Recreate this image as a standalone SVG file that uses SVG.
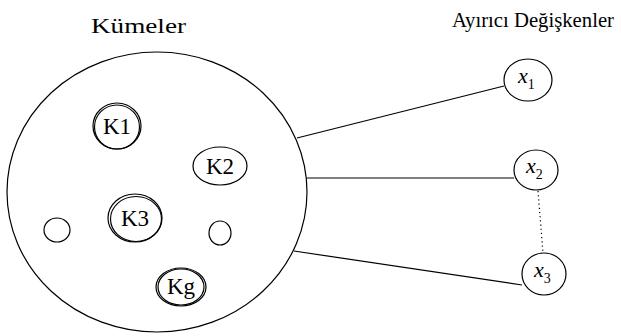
<svg xmlns="http://www.w3.org/2000/svg" width="621" height="336" viewBox="0 0 621 336">
<style>
.o{fill:none;stroke:#000;stroke-width:1.2}
.t{fill:#000;font-family:"Liberation Serif","Times New Roman",Times,serif}
.h{font-size:21px}
.k{font-size:23px;text-anchor:middle}
.v{font-size:22px;font-style:italic}
.s{font-size:14px;font-style:normal}
</style>
<rect width="621" height="336" fill="#fff"/>
<text class="t h" x="91" y="33" textLength="95" lengthAdjust="spacingAndGlyphs">Kümeler</text>
<text class="t h" x="452" y="27" font-size="19" textLength="162" lengthAdjust="spacingAndGlyphs">Ayırıcı Değişkenler</text>
<g id="connectors" stroke="#000" stroke-width="1.2" fill="none">
<line x1="297" y1="138" x2="504" y2="86"/>
<line x1="307" y1="178" x2="514" y2="178"/>
<line x1="294" y1="251" x2="522" y2="285"/>
<line x1="538" y1="191" x2="543" y2="253" stroke-dasharray="1.2 3"/>
</g>
<g id="kumeler">
<ellipse class="o" cx="157" cy="192" rx="150" ry="140"/>
</g>
<g id="K1"><ellipse class="o" cx="117" cy="126" rx="24" ry="23"/><ellipse class="o" cx="117" cy="127" rx="22.5" ry="22" stroke-width="0.8"/><text class="t k" x="117" y="134">K1</text></g>
<g id="K2"><ellipse class="o" cx="220" cy="166" rx="27" ry="19"/><text class="t k" x="220" y="174">K2</text></g>
<g id="K3"><ellipse class="o" cx="135" cy="218" rx="27" ry="24"/><ellipse class="o" cx="136" cy="219" rx="25.5" ry="22.5" stroke-width="0.8"/><text class="t k" x="135" y="226">K3</text></g>
<g id="Kg"><ellipse class="o" cx="181" cy="287" rx="25" ry="19"/><ellipse class="o" cx="181" cy="287" rx="23" ry="18" stroke-width="0.8"/><text class="t k" x="181" y="294">Kg</text></g>
<g id="c1"><ellipse class="o" cx="57" cy="230" rx="13" ry="12"/></g>
<g id="c2"><ellipse class="o" cx="220" cy="233" rx="11" ry="12"/></g>
<g id="x1"><ellipse class="o" cx="528" cy="80" rx="24" ry="21"/><text class="t v" x="518" y="83">x<tspan class="s" dy="6">1</tspan></text></g>
<g id="x2"><ellipse class="o" cx="536" cy="170" rx="22" ry="20"/><text class="t v" x="526" y="173">x<tspan class="s" dy="6">2</tspan></text></g>
<g id="x3"><ellipse class="o" cx="544" cy="274" rx="22" ry="21"/><text class="t v" x="534" y="277">x<tspan class="s" dy="6">3</tspan></text></g>
</svg>
